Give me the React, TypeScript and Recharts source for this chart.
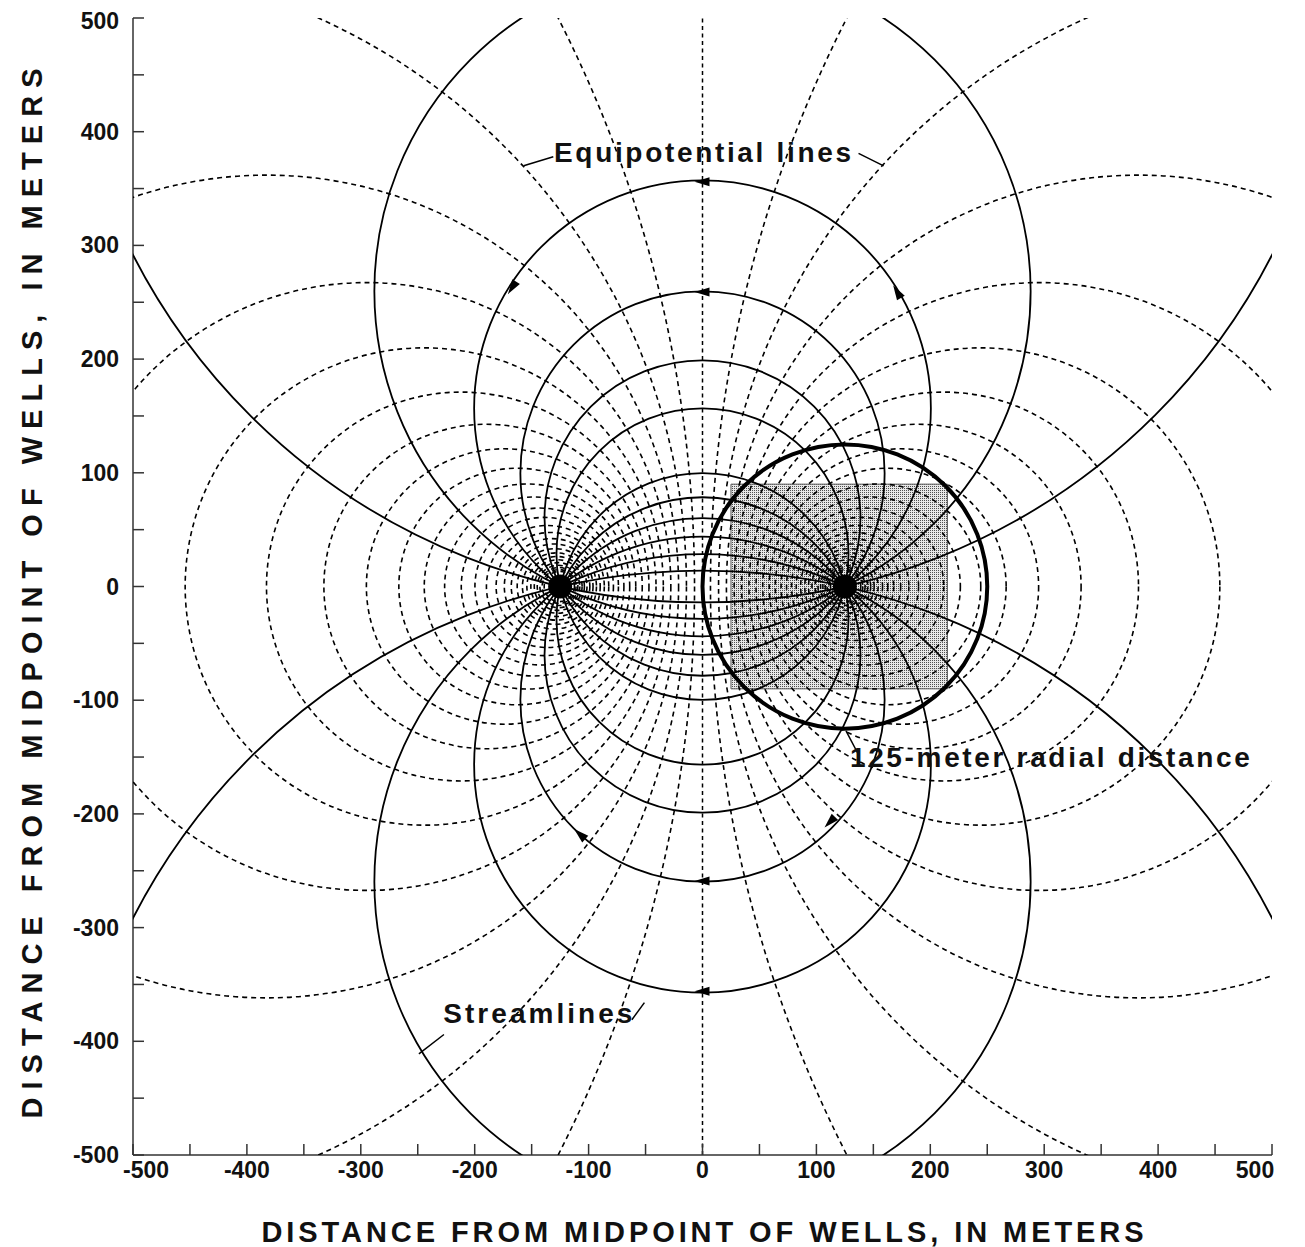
import React from "react";
import {
  ScatterChart,
  Scatter,
  XAxis,
  YAxis,
  ReferenceArea,
  ReferenceLine,
  ReferenceDot,
} from "recharts";

const CHART_W = 1290;
const CHART_H = 1239;
const PLOT_W = 1139;
const PLOT_H = 1137;
const KX = PLOT_W / 1000;
const KY = PLOT_H / 1000;
const FONT = '"Liberation Sans", Arial, Helvetica, sans-serif';

// axis ticks (m)
const TICKS = [
  -500, -450, -400, -350, -300, -250, -200, -150, -100, -50, 0, 50, 100, 150,
  200, 250, 300, 350, 400, 450, 500,
];
const TICK_LABELS = [-500, -400, -300, -200, -100, 0, 100, 200, 300, 400, 500];

// wells
const WELL_X = [-125, 125];

// equipotential circles round each well: centre distance from midpoint, radius (m)
const EQUI_CENTER = [
  1110.9, 562.5, 382.8, 295.1, 244.3, 211.8, 189.7, 174.0, 162.6, 154.1, 147.7,
  142.8, 139.0, 136.0, 133.7, 131.9, 130.5, 129.4, 128.5, 127.8, 127.2, 126.7,
  126.4, 126.1, 125.9, 125.7,
];
const EQUI_RADIUS = [
  1103.9, 548.4, 361.8, 267.3, 209.9, 171.0, 142.7, 121.1, 104.0, 90.2, 78.7,
  69.0, 60.8, 53.7, 47.5, 42.1, 37.4, 33.3, 29.6, 26.4, 23.5, 21.0, 18.7, 16.7,
  14.9, 13.3,
];

// streamline circles through both wells: centre on the y axis, radius (m)
const STREAM_CENTER = [547.7, 259.6, 156.7, 99.7, 60.2, 28.5];
const STREAM_RADIUS = [561.7, 288.1, 200.5, 159.9, 138.7, 128.2];

// 125-meter radial distance circle and the shaded block
const RADIAL = { x: 125, y: 0, r: 125 };
const BLOCK = { x1: 25, x2: 215, y1: -90, y2: 90 };

// flow arrows: position and direction (degrees, counter-clockwise from +x)
const ARROW_X = [0, 0, 0, 0, -167, 171, -107.5, 112];
const ARROW_Y = [356, 259, -356, -259, 263, 259, -218, -207];
const ARROW_DIR = [180, 180, 180, 180, 237, 121, 138, -134];

const equiData = EQUI_CENTER.flatMap((h, i) => [
  { x: -h, y: 0, r: EQUI_RADIUS[i] },
  { x: h, y: 0, r: EQUI_RADIUS[i] },
]);
const streamData = STREAM_CENTER.flatMap((c, i) => [
  { x: 0, y: c, r: STREAM_RADIUS[i] },
  { x: 0, y: -c, r: STREAM_RADIUS[i] },
]);
const radialData = [RADIAL];
const arrowData = ARROW_X.map((x, i) => ({ x, y: ARROW_Y[i], dir: ARROW_DIR[i] }));

const ring =
  (width: number, dash?: string) =>
  (props: any) => {
    const { cx, cy, payload } = props;
    return (
      <ellipse
        cx={cx}
        cy={cy}
        rx={payload.r * KX}
        ry={payload.r * KY}
        fill="none"
        stroke="#000"
        strokeWidth={width}
        strokeDasharray={dash}
        clipPath="url(#plot-clip)"
      />
    );
  };

const arrowShape = (props: any) => {
  const { cx, cy, payload } = props;
  return (
    <path
      d="M8,0 L-7,-4.5 L-7,4.5 Z"
      transform={`translate(${cx},${cy}) rotate(${-payload.dir})`}
      fill="#000"
    />
  );
};

const XTick = (props: any) => {
  const { x, y, payload } = props;
  const v = payload.value;
  if (!TICK_LABELS.includes(v)) return <g />;
  const dx = v === -500 ? 13 : v === 500 ? -17 : 0;
  return (
    <text
      x={x + dx}
      y={y + 23}
      textAnchor="middle"
      fontFamily={FONT}
      fontWeight="bold"
      fontSize={23}
      fill="#111"
    >
      {v}
    </text>
  );
};

const YTick = (props: any) => {
  const { x, y, payload } = props;
  const v = payload.value;
  if (!TICK_LABELS.includes(v)) return <g />;
  return (
    <text
      x={x - 14}
      y={y + 8 + (v === 500 ? 3 : 0)}
      textAnchor="end"
      fontFamily={FONT}
      fontWeight="bold"
      fontSize={23}
      fill="#111"
    >
      {v}
    </text>
  );
};

const Frame = (props: any) => {
  const { x, y, width, height } = props;
  return (
    <g>
      <defs>
        <clipPath id="plot-clip">
          <rect x={x} y={y} width={width} height={height} />
        </clipPath>
        <pattern id="stipple" width="2" height="2" patternUnits="userSpaceOnUse">
          <rect width="2" height="2" fill="#e8e8e8" />
          <rect width="1" height="1" fill="#505050" />
        </pattern>
      </defs>
      <text
        x={x + width / 2}
        y={y + height + 87}
        textAnchor="middle"
        fontFamily={FONT}
        fontWeight="bold"
        fontSize={29}
        textLength={882}
        lengthAdjust="spacing"
        fill="#111"
      >
        DISTANCE FROM MIDPOINT OF WELLS, IN METERS
      </text>
      <text
        transform={`translate(${x - 91},${y + height / 2 + 7}) rotate(-90)`}
        textAnchor="middle"
        fontFamily={FONT}
        fontWeight="bold"
        fontSize={29}
        textLength={1050}
        lengthAdjust="spacing"
        fill="#111"
      >
        DISTANCE FROM MIDPOINT OF WELLS, IN METERS
      </text>
    </g>
  );
};

const label = (text: string, len: number) => (props: any) => (
  <text
    x={props.cx}
    y={props.cy}
    dy="0.36em"
    textAnchor="middle"
    fontFamily={FONT}
    fontWeight="bold"
    fontSize={28}
    textLength={len}
    lengthAdjust="spacing"
    fill="#111"
  >
    {text}
  </text>
);

const axisStyle = { stroke: "#333", strokeWidth: 1.5 };

export default function App() {
  return (
    <ScatterChart
      width={CHART_W}
      height={CHART_H}
      margin={{ top: 10, right: 26, bottom: 0, left: 0 }}
      style={{ overflow: "visible" }}
    >
      <XAxis
        type="number"
        dataKey="x"
        domain={[-500, 500]}
        ticks={TICKS}
        allowDataOverflow
        height={92}
        tickSize={-11}
        tickMargin={11}
        tick={XTick}
        axisLine={axisStyle}
        tickLine={axisStyle}
        interval={0}
      />
      <XAxis
        xAxisId="top"
        orientation="top"
        type="number"
        domain={[-500, 500]}
        ticks={TICKS}
        allowDataOverflow
        height={0}
        tickSize={-11}
        tick={() => <g />}
        axisLine={axisStyle}
        tickLine={axisStyle}
        interval={0}
      />
      <YAxis
        type="number"
        dataKey="y"
        domain={[-500, 500]}
        ticks={TICKS}
        allowDataOverflow
        width={125}
        tickSize={-11}
        tickMargin={11}
        tick={YTick}
        axisLine={axisStyle}
        tickLine={axisStyle}
        interval={0}
      />
      <YAxis
        yAxisId="right"
        orientation="right"
        type="number"
        domain={[-500, 500]}
        ticks={TICKS}
        allowDataOverflow
        width={0}
        tickSize={-11}
        tick={() => <g />}
        axisLine={axisStyle}
        tickLine={axisStyle}
        interval={0}
      />

      <ReferenceArea x1={-500} x2={500} y1={-500} y2={500} shape={Frame} />
      <ReferenceArea
        x1={BLOCK.x1}
        x2={BLOCK.x2}
        y1={BLOCK.y1}
        y2={BLOCK.y2}
        fill="url(#stipple)"
        fillOpacity={1}
        stroke="#555"
        strokeWidth={1}
      />

      <Scatter
        data={equiData}
        shape={ring(1.6, "5 4")}
        isAnimationActive={false}
        legendType="none"
      />
      <ReferenceLine
        x={0}
        stroke="#000"
        strokeWidth={1.5}
        strokeDasharray="4 3.5"
      />
      <Scatter
        data={streamData}
        shape={ring(1.8)}
        isAnimationActive={false}
        legendType="none"
      />
      <Scatter
        data={radialData}
        shape={ring(4)}
        isAnimationActive={false}
        legendType="none"
      />
      <Scatter
        data={WELL_X.map((x) => ({ x, y: 0 }))}
        shape={(p: any) => <circle cx={p.cx} cy={p.cy} r={12} fill="#000" />}
        isAnimationActive={false}
        legendType="none"
      />
      <Scatter
        data={arrowData}
        shape={arrowShape}
        isAnimationActive={false}
        legendType="none"
      />

      <ReferenceLine
        segment={[
          { x: -157, y: 370 },
          { x: -131, y: 378 },
        ]}
        stroke="#000"
        strokeWidth={1.5}
      />
      <ReferenceLine
        segment={[
          { x: 137, y: 381 },
          { x: 159, y: 370 },
        ]}
        stroke="#000"
        strokeWidth={1.5}
      />
      <ReferenceLine
        segment={[
          { x: -249, y: -411 },
          { x: -227, y: -394 },
        ]}
        stroke="#000"
        strokeWidth={1.5}
      />
      <ReferenceLine
        segment={[
          { x: -62, y: -381 },
          { x: -51, y: -366 },
        ]}
        stroke="#000"
        strokeWidth={1.5}
      />
      <ReferenceLine
        segment={[
          { x: 126, y: -127 },
          { x: 137, y: -148 },
        ]}
        stroke="#000"
        strokeWidth={1.5}
      />

      <ReferenceDot x={0} y={382.6} r={0} shape={label("Equipotential lines", 297)} />
      <ReferenceDot x={-144.6} y={-374.7} r={0} shape={label("Streamlines", 189)} />
      <ReferenceDot
        x={305}
        y={-149.5}
        r={0}
        shape={label("125-meter radial distance", 400)}
      />
    </ScatterChart>
  );
}
